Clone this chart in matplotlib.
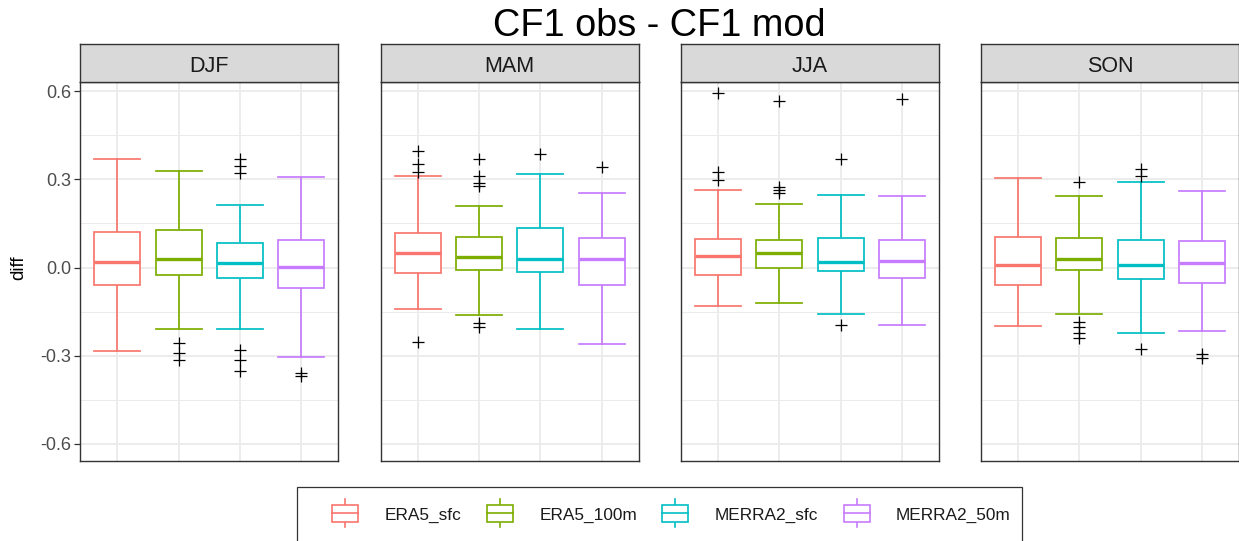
import matplotlib
matplotlib.use("Agg")
import matplotlib.pyplot as plt
from matplotlib.patches import Rectangle
from matplotlib.lines import Line2D
from matplotlib.legend_handler import HandlerBase

plt.rcParams['font.family'] = ['Liberation Sans', 'DejaVu Sans']

# ---------------- data ----------------
seasons = ["DJF", "MAM", "JJA", "SON"]
models = ["ERA5_sfc", "ERA5_100m", "MERRA2_sfc", "MERRA2_50m"]
colors = ["#F8766D", "#7CAE00", "#00BFC4", "#C77CFF"]

whis_lo = [[-0.284, -0.209, -0.209, -0.303],
           [-0.142, -0.162, -0.208, -0.259],
           [-0.131, -0.121, -0.158, -0.196],
           [-0.200, -0.157, -0.223, -0.217]]
q1 = [[-0.060, -0.024, -0.035, -0.071],
      [-0.017, -0.008, -0.016, -0.059],
      [-0.026, 0.000, -0.011, -0.036],
      [-0.059, -0.008, -0.038, -0.053]]
med = [[0.018, 0.029, 0.016, 0.001],
       [0.048, 0.037, 0.029, 0.029],
       [0.038, 0.050, 0.020, 0.022],
       [0.009, 0.029, 0.010, 0.014]]
q3 = [[0.121, 0.127, 0.082, 0.094],
      [0.117, 0.104, 0.134, 0.101],
      [0.098, 0.094, 0.100, 0.094],
      [0.104, 0.101, 0.094, 0.091]]
whis_hi = [[0.370, 0.328, 0.213, 0.309],
           [0.310, 0.209, 0.317, 0.252],
           [0.263, 0.216, 0.246, 0.242],
           [0.305, 0.243, 0.290, 0.259]]
outliers = [
    [[], [-0.255, -0.291, -0.315], [0.368, 0.345, 0.320, -0.282, -0.316, -0.351], [-0.359, -0.368]],
    [[0.398, 0.351, 0.326, -0.254], [0.370, 0.312, 0.289, 0.277, -0.189, -0.203], [0.386], [0.343]],
    [[0.592, 0.324, 0.298], [0.566, 0.273, 0.262, 0.252], [0.369, -0.195], [0.573]],
    [[], [0.290, -0.184, -0.202, -0.222, -0.240], [0.335, 0.312, -0.277], [-0.293, -0.306]],
]
yticks = [-0.6, -0.3, 0.0, 0.3, 0.6]
yticklabels = ["-0.6", "-0.3", "0.0", "0.3", "0.6"]
yminor = [-0.45, -0.15, 0.15, 0.45]

# ---------------- layout (pixels) ----------------
W, H = 1239, 541
fig = plt.figure(figsize=(W / 100, H / 100), dpi=100)

panel_x = [(80.3, 338.3), (380.7, 638.7), (681.0, 939.0), (981.0, 1238.7)]
p_top, p_bot = 82.3, 460.7
s_top = 44.0

grid_c = "#EBEBEB"
border_c = "#333333"

for i, s in enumerate(seasons):
    x0, x1 = panel_x[i]
    ax = fig.add_axes([x0 / W, (H - p_bot) / H, (x1 - x0) / W, (p_bot - p_top) / H])
    stats = []
    for j in range(len(models)):
        stats.append(dict(med=med[i][j], q1=q1[i][j], q3=q3[i][j],
                          whislo=whis_lo[i][j], whishi=whis_hi[i][j],
                          fliers=outliers[i][j], label=models[j]))
    bp = ax.bxp(stats, positions=[1, 2, 3, 4], widths=0.75, patch_artist=True,
                capwidths=0.75, showfliers=True, manage_ticks=False)
    for j, c in enumerate(colors):
        bp['boxes'][j].set(facecolor="white", edgecolor=c, linewidth=1.25, zorder=3)
        bp['medians'][j].set(color=c, linewidth=2.4, solid_capstyle='butt', zorder=4)
        for k in (2 * j, 2 * j + 1):
            bp['whiskers'][k].set(color=c, linewidth=1.25, zorder=2)
            bp['caps'][k].set(color=c, linewidth=1.25, zorder=2)
        bp['fliers'][j].set(marker='+', markersize=9, markeredgewidth=0.9,
                            markeredgecolor="black", zorder=5)
    ax.set_xlim(0.4, 4.6)
    ax.set_ylim(-0.657, 0.630)
    # grid
    for y in yticks:
        ax.axhline(y, color=grid_c, lw=1.3, zorder=0)
    for y in yminor:
        ax.axhline(y, color=grid_c, lw=0.7, zorder=0)
    for x in range(1, 5):
        ax.axvline(x, color=grid_c, lw=1.3, zorder=0)
    ax.set_xticks([])
    ax.set_yticks(yticks)
    if i == 0:
        ax.set_yticklabels(yticklabels, fontsize=13, color="#4D4D4D")
        ax.tick_params(axis='y', length=4.3, width=0.9, color=border_c, pad=2.2)
        ax.set_ylabel("diff", fontsize=13.5, color="black")
        ax.yaxis.set_label_coords(-0.207, 0.51)
    else:
        ax.set_yticklabels([])
        ax.tick_params(axis='y', length=0)
    for sp in ax.spines.values():
        sp.set_color(border_c)
        sp.set_linewidth(1.0)
        sp.set_zorder(6)
    # strip
    sax = fig.add_axes([x0 / W, (H - p_top) / H, (x1 - x0) / W, (p_top - s_top) / H])
    sax.set_facecolor("#D9D9D9")
    sax.set_xticks([])
    sax.set_yticks([])
    for sp in sax.spines.values():
        sp.set_color(border_c)
        sp.set_linewidth(1.0)
    sax.text(0.5, 0.277, s, ha='center', va='baseline', fontsize=15.5, color="#1A1A1A",
             transform=sax.transAxes)

# title
fig.text(659.5 / W, (H - 36) / H, "CF1 obs - CF1 mod", ha='center', va='baseline',
         fontsize=27.3, color="black")


# legend
class BoxHandler(HandlerBase):
    def __init__(self, color):
        super().__init__()
        self.color = color

    def create_artists(self, legend, orig_handle, xdescent, ydescent, width, height,
                       fontsize, trans):
        cx = -xdescent + width / 2
        cy = -ydescent + height / 2
        bh = 0.49 * fontsize
        wh = 0.81 * fontsize
        hw = width / 2
        rect = Rectangle((cx - hw, cy - bh), 2 * hw, 2 * bh, facecolor="white",
                         edgecolor=self.color, lw=1.2, transform=trans)
        mline = Line2D([cx - hw, cx + hw], [cy, cy], color=self.color, lw=1.2, transform=trans)
        w1 = Line2D([cx, cx], [cy + bh, cy + wh], color=self.color, lw=1.2, transform=trans)
        w2 = Line2D([cx, cx], [cy - bh, cy - wh], color=self.color, lw=1.2, transform=trans)
        return [w1, w2, rect, mline]


handles = [Rectangle((0, 0), 1, 1, label=m) for m in models]
hmap = {h: BoxHandler(c) for h, c in zip(handles, colors)}
fs_leg = 12.4
leg = fig.legend(handles=handles, labels=models, handler_map=hmap, ncol=4,
                 loc='center', bbox_to_anchor=(671.5 / W, (H - 515) / H),
                 frameon=False, fontsize=fs_leg, handlelength=1.51, handleheight=0.7,
                 handletextpad=1.54, columnspacing=1.47, labelcolor="#1A1A1A",
                 borderpad=0, borderaxespad=0)
fig.patches.append(Rectangle((297.3 / W, -0.05), (1021.7 - 297.3) / W, (H - 487.3) / H + 0.05,
                             transform=fig.transFigure, facecolor="none",
                             edgecolor="#333333", lw=0.9))

fig.savefig("out.png", dpi=100)
